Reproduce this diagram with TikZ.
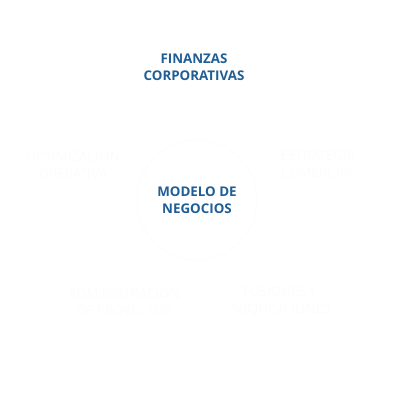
\documentclass[tikz,border=0pt]{standalone}
\usepackage{fontspec}
\setmainfont{Open Sans}
\usepackage{tikz}
\definecolor{azulfin}{RGB}{31,94,150}
\definecolor{casiblanco}{RGB}{252,252,252}
\tikzset{
  rama/.style={align=center,font=\fontsize{9.5}{12}\selectfont\bfseries,text=azulfin},
  oculto/.style={align=center,font=\fontsize{9.5}{12}\selectfont,text=casiblanco}
}

\begin{document}
\begin{tikzpicture}[x=0.025cm,y=-0.025cm]
\useasboundingbox (0,0) rectangle (400,400);
 \draw[casiblanco,line width=0.6pt] (197,200) circle (60);
 \node[rama] (centro) at (197,200) {MODELO DE\\NEGOCIOS};
 \node[rama] (finanzas) at (194,67) {FINANZAS\\CORPORATIVAS};
 \node[oculto] (optim) at (73,164) {OPTIMIZACIÓN\\OPERATIVA};
 \node[oculto] (estrat) at (318,164) {ESTRATEGIA\\COMERCIAL};
 \node[oculto] (admin) at (124,301) {ADMINISTRACIÓN\\DE PROYECTOS};
 \node[oculto] (fusion) at (280,301) {FUSIONES Y\\ADQUISICIONES};
\end{tikzpicture}
\end{document}
